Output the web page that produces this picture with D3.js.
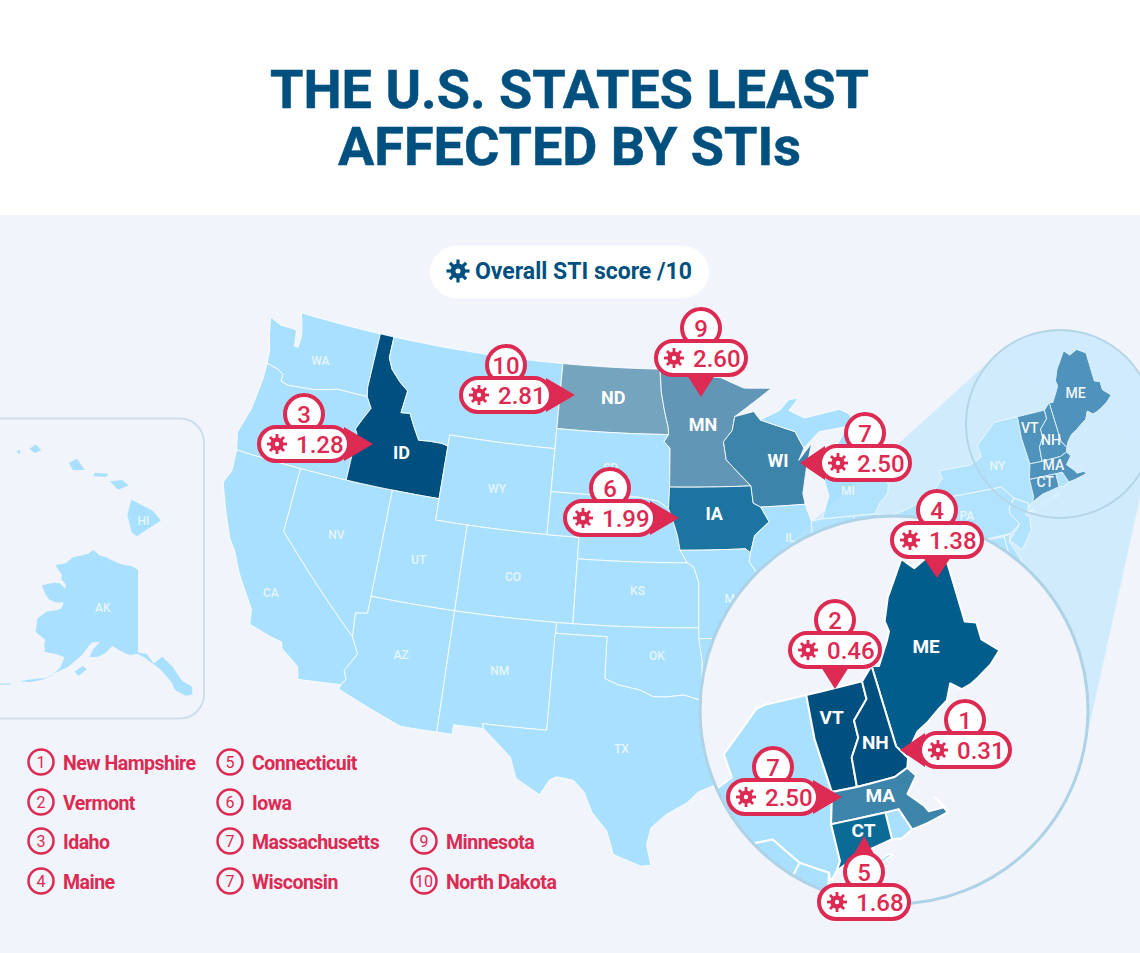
<!DOCTYPE html>
<html>
<head>
<meta charset="utf-8">
<title>The U.S. states least affected by STIs</title>
<script src="https://cdn.jsdelivr.net/npm/d3@7"></script>
<style>
  html, body { margin: 0; padding: 0; background: #fff; }
  svg { display: block; font-family: Roboto, sans-serif; }
</style>
</head>
<body>
<svg id="map" width="1140" height="953"></svg>
<script>
// ranking
const ranks = [1, 2, 3, 4, 5, 6, 7, 7, 9, 10];
const abbrs = ["NH", "VT", "ID", "ME", "CT", "IA", "MA", "WI", "MN", "ND"];
const names = ["New Hampshire", "Vermont", "Idaho", "Maine", "Connecticuit", "Iowa", "Massachusetts", "Wisconsin", "Minnesota", "North Dakota"];
const scores = [0.31, 0.46, 1.28, 1.38, 1.68, 1.99, 2.50, 2.50, 2.60, 2.81];

// colour per score
const scoreStops = [0.31, 1.28, 1.38, 1.68, 1.99, 2.50, 2.60, 2.81];
const scoreColours = ["#00507f", "#00507f", "#015d8b", "#0a6b96", "#1c75a0", "#3d84ab", "#6196b6", "#75a4bf"];

// shared borders, lon/lat
const waOr = [[-124.0,46.27],[-123.2,46.15],[-122.8,46.0],[-122.75,45.65],[-122.2,45.57],[-121.2,45.65],[-120.5,45.7],[-119.3,45.93],[-118.98,46.0],[-116.92,45.99]];
const idWest = [[-116.92,45.99],[-116.5,45.5],[-116.9,44.9],[-117.2,44.4],[-117.03,44.2],[-117.03,42]];
const idEast = [[-116.05,49],[-116.05,48],[-115.7,47.5],[-115.0,47.0],[-114.35,46.65],[-114.5,45.6],[-113.9,45.65],[-113.45,45.05],[-113.0,44.5],[-112.3,44.55],[-111.5,44.55],[-111.05,44.48]];
const ndEast = [[-97.23,49],[-97.1,47.9],[-96.85,47],[-96.6,46.3],[-96.56,45.94]];
const sdEast = [[-96.56,45.94],[-96.85,45.6],[-96.45,45.3],[-96.45,43.5]];
const sdSouth = [[-96.45,43.5],[-96.5,42.5],[-97.2,42.85],[-98.5,43.0],[-104.05,43]];
const neEast = [[-96.5,42.5],[-96.1,41.7],[-95.9,41.2],[-95.75,40.58]];
const kansasEast = [[-95.3,40],[-94.9,39.8],[-94.61,39.1],[-94.62,37]];
const okSouth = [[-94.48,33.64],[-95.5,33.9],[-96.5,33.8],[-97.2,33.8],[-98,34.1],[-99.2,34.3],[-100,34.56]];
const colorado = [[-114.63,35],[-114.15,34.26],[-114.7,33.4],[-114.5,33],[-114.72,32.72]];
const stCroix = [[-92.1,46.75],[-92.3,46.1],[-92.9,45.6],[-92.75,44.75],[-91.2,43.5]];
const upperMiss = [[-91.2,43.5],[-91.1,42.7],[-90.64,42.5],[-90.15,41.8],[-91.1,41.2],[-91.4,40.4]];
const midMiss = [[-91.4,40.4],[-91.5,40],[-90.7,39],[-90.2,38.7],[-90.2,38.4],[-89.5,37.3],[-89.13,36.98]];
const ctrRiver = [[-71.5,45.01],[-71.5,44.6],[-72.05,44.2],[-72.05,43.8],[-72.4,43.4],[-72.46,42.73]];
const meNh = [[-71.08,45.3],[-70.97,43.4],[-70.7,43.08]];

const rev = a => a.slice().reverse();

const stateShapes = {
  WA: [[[-122.76,49],[-117.03,49],[-117.04,46.42],...rev(waOr),[-124.1,46.9],[-124.4,47.5],[-124.73,48.38],[-123.9,48.17],[-123.1,48.17],[-122.75,48.15],[-122.55,47.4],[-122.3,47.4],[-122.3,48],[-122.5,48.5]]],
  OR: [[...waOr,...idWest.slice(1),[-124.2,42],[-124.5,42.8],[-124.1,44],[-123.95,45.5]]],
  CA: [[[-124.2,42],[-120,42],[-120,39],...colorado,[-117.12,32.53],[-117.3,33.1],[-118.4,33.75],[-118.5,34.03],[-119.2,34.15],[-120.5,34.45],[-120.65,35.15],[-121.9,36.6],[-122.5,37.5],[-123,38],[-123.8,39.3],[-124.4,40.4],[-124.1,41]]],
  NV: [[[-120,42],[-114.04,42],[-114.04,37],[-114.05,36.2],[-114.74,36.1],[-114.63,35],[-120,39]]],
  ID: [[[-117.03,49],...idEast,[-111.05,42],[-117.03,42],...rev(idWest).slice(1),[-117.04,46.42]]],
  MT: [[[-116.05,49],[-104.05,49],[-104.05,45],[-111.05,45],...rev(idEast)]],
  WY: [[[-111.05,45],[-104.05,45],[-104.05,41],[-111.05,41]]],
  UT: [[[-114.04,42],[-111.05,42],[-111.05,41],[-109.05,41],[-109.05,37],[-114.04,37]]],
  CO: [[[-109.05,41],[-102.05,41],[-102.05,37],[-109.05,37]]],
  AZ: [[[-114.04,37],[-109.05,37],[-109.05,31.33],[-111.07,31.33],[-114.8,32.5],...rev(colorado),[-114.74,36.1],[-114.05,36.2]]],
  NM: [[[-109.05,37],[-103,37],[-103.06,32],[-106.63,32],[-106.53,31.78],[-108.2,31.78],[-108.2,31.33],[-109.05,31.33]]],
  ND: [[[-104.05,49],...ndEast,[-104.05,45.94]]],
  SD: [[[-104.05,45.94],...sdEast,...sdSouth.slice(1)]],
  NE: [[[-104.05,43],...rev(sdSouth).slice(1,4),...neEast,[-95.3,40],[-102.05,40],[-102.05,41],[-104.05,41]]],
  KS: [[[-102.05,40],...kansasEast,[-102.04,37]]],
  OK: [[[-103,37],[-94.62,37],[-94.43,35.4],...okSouth,[-100,36.5],[-103,36.5]]],
  TX: [[[-106.63,32],[-103.06,32],[-103.04,36.5],[-100,36.5],...rev(okSouth),[-94.04,33.55],[-94.04,32],[-93.53,31.2],[-93.85,29.7],[-94.7,29.4],[-95.3,28.9],[-96.4,28.35],[-97.2,27.7],[-97.4,26.9],[-97.15,25.95],[-97.65,25.9],[-99.1,26.4],[-99.5,27.5],[-100.3,28.3],[-100.8,29.25],[-101.4,29.77],[-102.3,29.88],[-102.7,29.7],[-103.15,28.98],[-104.5,29.65],[-104.9,30.6],[-106,31.4],[-106.53,31.78]]],
  MN: [[...ndEast.slice(0,1),[-95.15,49],[-95.15,49.38],[-94.8,49.3],[-94.6,48.7],[-93,48.6],[-91.4,48.07],[-89.5,48],[-92.1,46.75],...stCroix.slice(1),[-96.45,43.5],...rev(sdEast).slice(1),...rev(ndEast).slice(1)]],
  IA: [[[-96.45,43.5],...upperMiss,[-91.7,40.6],...rev(neEast)]],
  MO: [[[-95.75,40.58],[-91.7,40.6],...midMiss,[-89.4,36.5],[-89.7,36],[-90.37,36],[-90.1,36.5],[-94.62,36.5],...rev(kansasEast)]],
  AR: [[[-94.62,36.5],[-90.1,36.5],[-90.37,36],[-89.7,36],[-90.1,35],[-91.1,33.9],[-91.15,33],[-94.04,33],[-94.04,33.55],[-94.48,33.64],[-94.43,35.4]]],
  LA: [[[-94.04,33],[-91.15,33],[-90.9,32.3],[-91.6,31],[-89.75,31],[-89.6,30.2],[-89.4,29.2],[-91,29.2],[-93.85,29.7],[-93.53,31.2],[-94.04,32]]],
  WI: [[...stCroix.slice(0,1),[-90.8,46.95],[-90.4,46.55],[-88.1,45.9],[-87.6,45.1],[-88,44.55],[-87.05,45.3],[-87.5,44.3],[-87.9,43],[-87.8,42.5],[-90.64,42.5],[-91.1,42.7],...rev(stCroix).slice(0,4)]],
  IL: [[[-90.64,42.5],[-87.8,42.5],[-87.5,41.7],[-87.53,39.3],[-87.5,38.5],[-88.05,37.8],[-88.5,37.1],...rev(midMiss),[-91.1,41.2],[-90.15,41.8]]],
  IN: [[[-87.5,41.7],[-86.8,41.76],[-84.8,41.76],[-84.8,39.1],[-85.4,38.7],[-86,38],[-87,37.9],[-88.05,37.8],[-87.5,38.5],[-87.53,39.3]]],
  MI: [[[-86.8,41.76],[-84.8,41.76],[-83.45,41.73],[-83.1,42.2],[-82.5,42.6],[-82.4,43],[-82.6,43.9],[-83.3,44.1],[-83.9,43.7],[-83.4,44.9],[-84.7,45.8],[-85.5,45],[-86.3,44.7],[-86.5,43.7],[-86.25,42.8]],
       [[-90.4,46.55],[-89,46.95],[-88.4,47.4],[-87.7,47.45],[-88.4,46.9],[-87.4,46.5],[-85,46.75],[-84.4,46.5],[-84,46],[-84.8,45.9],[-86.5,45.8],[-87.6,45.1],[-88.1,45.9]]],
  OH: [[[-84.8,41.76],[-83.45,41.73],[-82.7,41.5],[-81.2,41.8],[-80.52,42],[-80.52,40.64],[-80.8,39.7],[-81.7,39.2],[-82.2,38.6],[-82.6,38.45],[-83.7,38.65],[-84.8,39.1]]],
  WV: [[[-80.52,40.64],[-80.52,39.72],[-79.48,39.72],[-79.48,39.2],[-78.4,39.6],[-77.75,39.3],[-78.4,39],[-80,38.3],[-81.7,37.3],[-82.6,38.2],[-82.2,38.6],[-81.7,39.2],[-80.8,39.7]]],
  VA: [[[-83.7,36.6],[-81.7,37.3],[-80,38.3],[-78.4,39],[-77.75,39.3],[-77,38.9],[-76.4,37.9],[-76,36.93],[-75.9,36.55]]],
  MD: [[[-79.48,39.72],[-75.79,39.72],[-75.7,38.46],[-75.05,38.45],[-75.6,37.95],[-76.2,38.3],[-76.2,39.3],[-76.5,39.2],[-76.4,38.3],[-77,38.9],[-77.75,39.3],[-78.4,39.6],[-79.48,39.2]]],
  DE: [[[-75.79,39.72],[-75.4,39.8],[-75.55,39.45],[-75.05,38.45],[-75.7,38.46]]],
  PA: [[[-80.52,42],[-79.76,42.27],[-79.76,42],[-75.35,42],[-74.7,41.36],[-75.13,40.97],[-75.15,40.7],[-74.7,40.15],[-75.4,39.8],[-80.52,39.72]]],
  NJ: [[[-74.7,41.36],[-73.9,41],[-74,40.7],[-74.25,40.5],[-74,40.4],[-74.1,39.75],[-74.9,38.95],[-75.5,39.5],[-74.7,40.15],[-75.15,40.7],[-75.13,40.97]]],
  NY: [[[-79.76,42.27],[-78.9,42.9],[-79.05,43.27],[-77,43.28],[-76.2,43.55],[-76.3,44.1],[-75,44.95],[-74.7,45],[-73.34,45.01],[-73.4,44],[-73.25,42.75],[-73.5,42.05],[-73.49,41.2],[-73.65,41],[-73.9,40.8],[-73.9,41],[-74.7,41.36],[-75.35,42],[-79.76,42]],
       [[-74,40.6],[-72,41.1],[-71.9,41.05],[-73.6,40.6]]],
  VT: [[[-73.34,45.01],...ctrRiver,[-73.25,42.75],[-73.4,44]]],
  NH: [[[-71.5,45.01],...meNh,[-70.8,42.87],[-71.25,42.74],...rev(ctrRiver).slice(0,5)]],
  ME: [[...meNh.slice(0,1),[-70.85,45.25],[-70.4,45.75],[-70.25,45.95],[-70.3,46.2],[-70,46.7],[-69.23,47.46],[-69.05,47.3],[-68.9,47.18],[-68.35,47.35],[-67.8,47.07],[-67.8,45.7],[-67.45,45.6],[-67.45,45.2],[-67,44.85],[-67.4,44.6],[-67.9,44.4],[-68.2,44.3],[-68.5,44.25],[-68.8,44.45],[-69.05,44.1],[-69.4,43.95],[-69.8,43.75],[-70.2,43.6],[-70.55,43.3],[-70.7,43.08],[-70.97,43.4]]],
  MA: [[[-73.5,42.05],[-73.25,42.75],[-72.46,42.73],[-71.25,42.74],[-70.8,42.87],[-70.6,42.65],[-71,42.3],[-70.6,41.95],[-70.5,41.8],[-70,41.8],[-70.2,42.07],[-69.95,41.67],[-70.65,41.55],[-71.13,41.5],[-71.38,42.02],[-71.8,42.02]]],
  RI: [[[-71.8,42.02],[-71.38,42.02],[-71.13,41.5],[-71.5,41.37],[-71.8,41.4]]],
  CT: [[[-73.5,42.05],[-71.8,42.02],[-71.8,41.4],[-72.9,41.25],[-73.65,41],[-73.49,41.2]]]
};

const alaskaShapes = [
  [[-141,69.65],[-143,70.1],[-146,70.2],[-149,70.5],[-152,70.85],[-154,70.9],[-156.6,71.35],[-158,70.8],[-160,70.4],[-162.5,69.9],[-164,69],[-166.8,68.35],[-164,67.6],[-163.7,67.1],[-162,66.7],[-161.7,66.2],[-163.7,66.6],[-165.5,66.4],[-168.1,65.65],[-166.5,64.9],[-165,64.45],[-162.8,64.4],[-161,64.7],[-161.2,63.9],[-162.5,63.5],[-164.5,63.05],[-165.9,62],[-165.2,60.5],[-162.5,60],[-162.3,59.3],[-161.8,59],[-162,58.7],[-160,58.8],[-158.5,58.8],[-157.3,58.75],[-157.6,57.5],[-158.7,56.5],[-160.5,55.6],[-162.8,54.9],[-164.8,54.6],[-162.5,55.3],[-160,55.9],[-158,56.9],[-156,57.8],[-154.5,58.8],[-153.5,59.5],[-152.5,60.5],[-151.8,61],[-150,61.2],[-151.3,60.3],[-151.9,59.3],[-150,59.5],[-148.5,60],[-147,60.9],[-145,60.4],[-143,60],[-141,60.1],[-139.5,59.7],[-137.5,58.9],[-136,58.2],[-134,56.7],[-133.5,55.8],[-131.5,55],[-130.2,55],[-130,55.9],[-131.8,56.7],[-133.4,58.4],[-135.5,59.7],[-137.5,59],[-139,60.1],[-141,60.3]],
  [[-154.5,57.4],[-153,58.2],[-152,57.9],[-153.5,57]],
  [[-168,53.4],[-166,53.9],[-166.2,54],[-168.2,53.5]],
  [[-172,52.8],[-170,52.9],[-170,53],[-172,52.95]],
  [[-177,51.8],[-174,52.1],[-174,52.2],[-177,51.95]]
];
const hawaiiShapes = [
  [[-155.9,20.25],[-155.1,19.85],[-154.8,19.5],[-155.7,18.95],[-155.9,19.1],[-156.05,19.7]],
  [[-156.7,20.9],[-156.25,20.95],[-156,20.75],[-156.4,20.6]],
  [[-157.3,21.2],[-156.75,21.17],[-156.85,21.05],[-157.3,21.08]],
  [[-158.25,21.55],[-157.95,21.7],[-157.65,21.3],[-158.1,21.3]],
  [[-159.75,22.05],[-159.5,22.2],[-159.3,22],[-159.55,21.9]],
  [[-160.25,21.95],[-160.1,22],[-160.1,21.85]]
];

// state tags, placed by lon/lat
const mainTags = [["WA",-120.6,47.1],["NV",-116.85,39.45],["UT",-111.65,39.05],["WY",-107.5,42.85],["CO",-105.85,38.9],["KS",-98.3,38.65],["CA",-119.8,36.1],["AZ",-111.7,34.6],["NM",-106,34.5],["OK",-97.05,35.7],["TX",-98.9,31.35],["SD",-100.3,44.3],["MI",-85,42.95],["IL",-88.9,41],["MO",-92.5,38.3],["PA",-77.8,41],["NY",-75.3,43]];
const scoreTags = [["ID",-113.95,43.8],["ND",-100.4,47.55],["MN",-94.25,46.4],["WI",-89.35,44.6],["IA",-93.6,42.25]];
const zoomTags = [["ME",-69.22,45.4],["VT",-72.72,44.38],["NH",-71.57,43.6],["MA",-71.82,42.42],["CT",-72.58,41.75]];

// layout: centre of each callout pill, pointer side and length
const calloutLayout = {
  NH: [965,750,"left",65], VT: [835,650,"down",39], ID: [304,444,"right",69], ME: [937,540,"down",38], CT: [864,902,"up",66],
  IA: [610,518,"right",69], MA: [773,797,"right",69], WI: [865,463,"left",65], MN: [701,358,"down",39], ND: [506,395,"right",69]
};

const crimson = "#dc2a52", navy = "#00507f", land = "#a9e0ff", page = "#f1f4fb";
const svg = d3.select("#map");

const colour = d3.scaleLinear().domain(scoreStops).range(scoreColours);
const scoreOf = Object.fromEntries(abbrs.map((a, i) => [a, scores[i]]));

// one geometry, three views
const k = 2.06;
const smallC = [1060, 424], smallR = 94, bigC = [894, 710], bigR = 194;
const mainScale = 1230, mainT = [679, 591], midLon = 95.2;
const mainProj = d3.geoAlbers().rotate([midLon, 0]).scale(mainScale).translate(mainT);
const bigProj = d3.geoAlbers().rotate([midLon, 0]).scale(mainScale * k)
  .translate([bigC[0] + k * (mainT[0] - smallC[0]), bigC[1] + k * (mainT[1] - smallC[1])]);
const akProj = d3.geoConicEqualArea().rotate([141, 0]).center([0, 60]).parallels([55, 65]).scale(505).translate([138, 655]);
const hiProj = d3.geoConicEqualArea().rotate([157, 0]).center([-3, 19.9]).parallels([8, 18]).scale(1620).translate([22, 509]);

// parallels have to bend, so split long straight runs before projecting
function dense(ring) {
  const out = [];
  ring.forEach((p, i) => {
    const q = ring[(i + 1) % ring.length];
    const n = Math.max(1, Math.ceil(Math.max(Math.abs(q[0] - p[0]), Math.abs(q[1] - p[1])) / 0.5));
    d3.range(n).forEach(j => out.push([p[0] + (q[0] - p[0]) * j / n, p[1] + (q[1] - p[1]) * j / n]));
  });
  return out;
}
const lineGen = d3.line();
const ringsPath = (rings, proj) => rings.map(r => lineGen(dense(r).map(proj)) + "Z").join("");

// header and background
svg.append("rect").attr("width", 1140).attr("height", 953).attr("fill", "#fff");
svg.append("rect").attr("y", 215).attr("width", 1140).attr("height", 738).attr("fill", page);
svg.selectAll("text.title").data(["THE U.S. STATES LEAST", "AFFECTED BY STIs"]).join("text")
  .attr("class", "title").attr("x", 569.5).attr("y", (d, i) => 107.5 + i * 57)
  .attr("text-anchor", "middle").attr("fill", navy)
  .attr("stroke", navy).attr("stroke-width", .5)
  .style("font-size", "54px").style("font-weight", 700).text(d => d);

// tangent cone between the two circles
const coneAngle = Math.atan2(bigC[1] - smallC[1], bigC[0] - smallC[0]);
const coneOpen = Math.acos((smallR - bigR) / Math.hypot(bigC[0] - smallC[0], bigC[1] - smallC[1]));
const conePts = [coneAngle + coneOpen, coneAngle - coneOpen].map(a => [
  [smallC[0] + smallR * Math.cos(a), smallC[1] + smallR * Math.sin(a)],
  [bigC[0] + bigR * Math.cos(a), bigC[1] + bigR * Math.sin(a)]
]);
const conePath = "M" + conePts[0][0] + "L" + conePts[0][1] + "L" + conePts[1][1] + "L" + conePts[1][0] + "Z";
svg.append("path").attr("d", conePath).attr("fill", "#d0ebfd");
svg.append("circle").attr("cx", smallC[0]).attr("cy", smallC[1]).attr("r", smallR).attr("fill", "#d0ebfd");

// main map
const mainStates = Object.keys(stateShapes);
svg.append("g").selectAll("path").data(mainStates).join("path")
  .attr("d", d => ringsPath(stateShapes[d], mainProj))
  .attr("fill", d => (["ID","ND","MN","WI","IA"].includes(d) ? colour(scoreOf[d]) : land))
  .attr("stroke", "#fff").attr("stroke-opacity", .85).attr("stroke-width", 1);
svg.append("path").attr("d", conePath).attr("fill", "#d0ebfd").attr("opacity", .25);

// alaska and hawaii box
svg.append("rect").attr("x", -30).attr("y", 418.5).attr("width", 234).attr("height", 300).attr("rx", 24)
  .attr("fill", "none").attr("stroke", "#cfdeea").attr("stroke-width", 2);
svg.selectAll("path.ak").data(alaskaShapes).join("path").attr("class", "ak")
  .attr("d", d => ringsPath([d], akProj)).attr("fill", land);
svg.selectAll("path.hi").data(hawaiiShapes).join("path").attr("class", "hi")
  .attr("d", d => ringsPath([d], hiProj)).attr("fill", land);

// small state tags
function tag(t, proj, size, weight, op) {
  const p = proj([t[1], t[2]]);
  svg.append("text").attr("x", p[0]).attr("y", p[1]).attr("dy", ".35em").attr("text-anchor", "middle")
    .attr("fill", "#fff").attr("fill-opacity", op).style("font-size", size + "px").style("font-weight", weight).text(t[0]);
}
mainTags.forEach(t => tag(t, mainProj, 12, 500, .72));
scoreTags.forEach(t => tag(t, mainProj, 18, 700, 1));
tag(["AK", -150.5, 65], akProj, 12, 500, .72);
tag(["HI", -155.45, 19.5], hiProj, 12, 500, .72);

// inset marker on the main map
const zoomStates = ["ME", "VT", "NH", "MA", "CT"];
svg.selectAll("path.small").data(zoomStates).join("path").attr("class", "small")
  .attr("d", d => ringsPath(stateShapes[d], mainProj))
  .attr("fill", "#4f93bd").attr("stroke", "#d8eefc").attr("stroke-width", 1);
svg.append("circle").attr("cx", smallC[0]).attr("cy", smallC[1]).attr("r", smallR)
  .attr("fill", "none").attr("stroke", "#b5d6e8").attr("stroke-width", 2);
zoomTags.forEach(t => tag(t, mainProj, 14, 500, .95));

// enlarged circle
svg.append("clipPath").attr("id", "bigClip").append("circle").attr("cx", bigC[0]).attr("cy", bigC[1]).attr("r", bigR);
svg.append("circle").attr("cx", bigC[0]).attr("cy", bigC[1]).attr("r", bigR).attr("fill", page);
const bigG = svg.append("g").attr("clip-path", "url(#bigClip)");
bigG.selectAll("path").data(["NY","PA","NJ","RI","ME","VT","NH","MA","CT"]).join("path")
  .attr("d", d => ringsPath(stateShapes[d], bigProj))
  .attr("fill", d => (zoomStates.includes(d) ? colour(scoreOf[d]) : land))
  .attr("stroke", "#fff").attr("stroke-width", 2).attr("stroke-linejoin", "round");
svg.append("circle").attr("cx", bigC[0]).attr("cy", bigC[1]).attr("r", bigR)
  .attr("fill", "none").attr("stroke", "#aed2e6").attr("stroke-width", 3);
zoomTags.forEach(t => tag(t, bigProj, 19, 700, 1));

// little virus mark
function virus(g, x, y, r, fill, hole) {
  const v = g.append("g").attr("transform", `translate(${x},${y})`);
  v.selectAll("line").data(d3.range(8)).join("line")
    .attr("x2", d => r * Math.cos(d * Math.PI / 4)).attr("y2", d => r * Math.sin(d * Math.PI / 4))
    .attr("stroke", fill).attr("stroke-width", r * .28);
  v.append("circle").attr("r", r * .66).attr("fill", fill);
  v.append("circle").attr("r", r * .22).attr("fill", hole);
}

// legend pill
svg.append("rect").attr("x", 430).attr("y", 246).attr("width", 279).attr("height", 52).attr("rx", 26).attr("fill", "#fff");
virus(svg, 458, 271, 11.5, navy, "#fff");
svg.append("text").attr("x", 475).attr("y", 279).attr("fill", navy)
  .style("font-size", "23px").style("font-weight", 700).text("Overall STI score /10");

// callouts
abbrs.forEach((a, i) => {
  const [x, y, side, len] = calloutLayout[a];
  const g = svg.append("g").attr("class", "callout");
  const tri = {
    right: [[x + len, y], [x + 40, y - 17], [x + 40, y + 17]],
    left: [[x - len, y], [x - 40, y - 17], [x - 40, y + 17]],
    down: [[x, y + len], [x - 14, y + 17], [x + 14, y + 17]],
    up: [[x, y - len], [x - 20, y - 30], [x + 20, y - 30]]
  }[side];
  g.append("path").attr("d", lineGen(tri) + "Z").attr("fill", crimson);
  g.append("circle").attr("cx", x).attr("cy", y - 30).attr("r", 19)
    .attr("fill", "#fff").attr("stroke", crimson).attr("stroke-width", 4);
  g.append("rect").attr("x", x - 45).attr("y", y - 17).attr("width", 90).attr("height", 34).attr("rx", 17)
    .attr("fill", "#fff").attr("stroke", crimson).attr("stroke-width", 4);
  virus(g, x - 27, y, 10, crimson, "#fff");
  g.append("text").attr("x", x - 8).attr("y", y + 8.5).attr("fill", crimson)
    .style("font-size", "24px").style("font-weight", 500).text(scores[i].toFixed(2));
  g.append("text").attr("x", x).attr("y", y - 21.5).attr("text-anchor", "middle").attr("fill", crimson)
    .style("font-size", "24px").style("font-weight", 500).text(ranks[i]);
});

// ranking list
const listCol = [41, 230, 424], listRow = [762, 802, 841, 881];
const listPos = [[0,0],[0,1],[0,2],[0,3],[1,0],[1,1],[1,2],[1,3],[2,2],[2,3]];
const rows = svg.selectAll("g.entry").data(names).join("g").attr("class", "entry")
  .attr("transform", (d, i) => `translate(${listCol[listPos[i][0]]},${listRow[listPos[i][1]]})`);
rows.append("circle").attr("r", 12.5).attr("fill", "none").attr("stroke", crimson).attr("stroke-width", 2.5);
rows.append("text").attr("text-anchor", "middle").attr("y", 5.5).attr("fill", crimson)
  .style("font-size", "16px").text((d, i) => ranks[i]);
rows.append("text").attr("x", 22).attr("y", 7.5).attr("fill", crimson)
  .style("font-size", "19.5px").style("font-weight", 700).style("letter-spacing", "-.5px").text(d => d);
</script>
</body>
</html>
